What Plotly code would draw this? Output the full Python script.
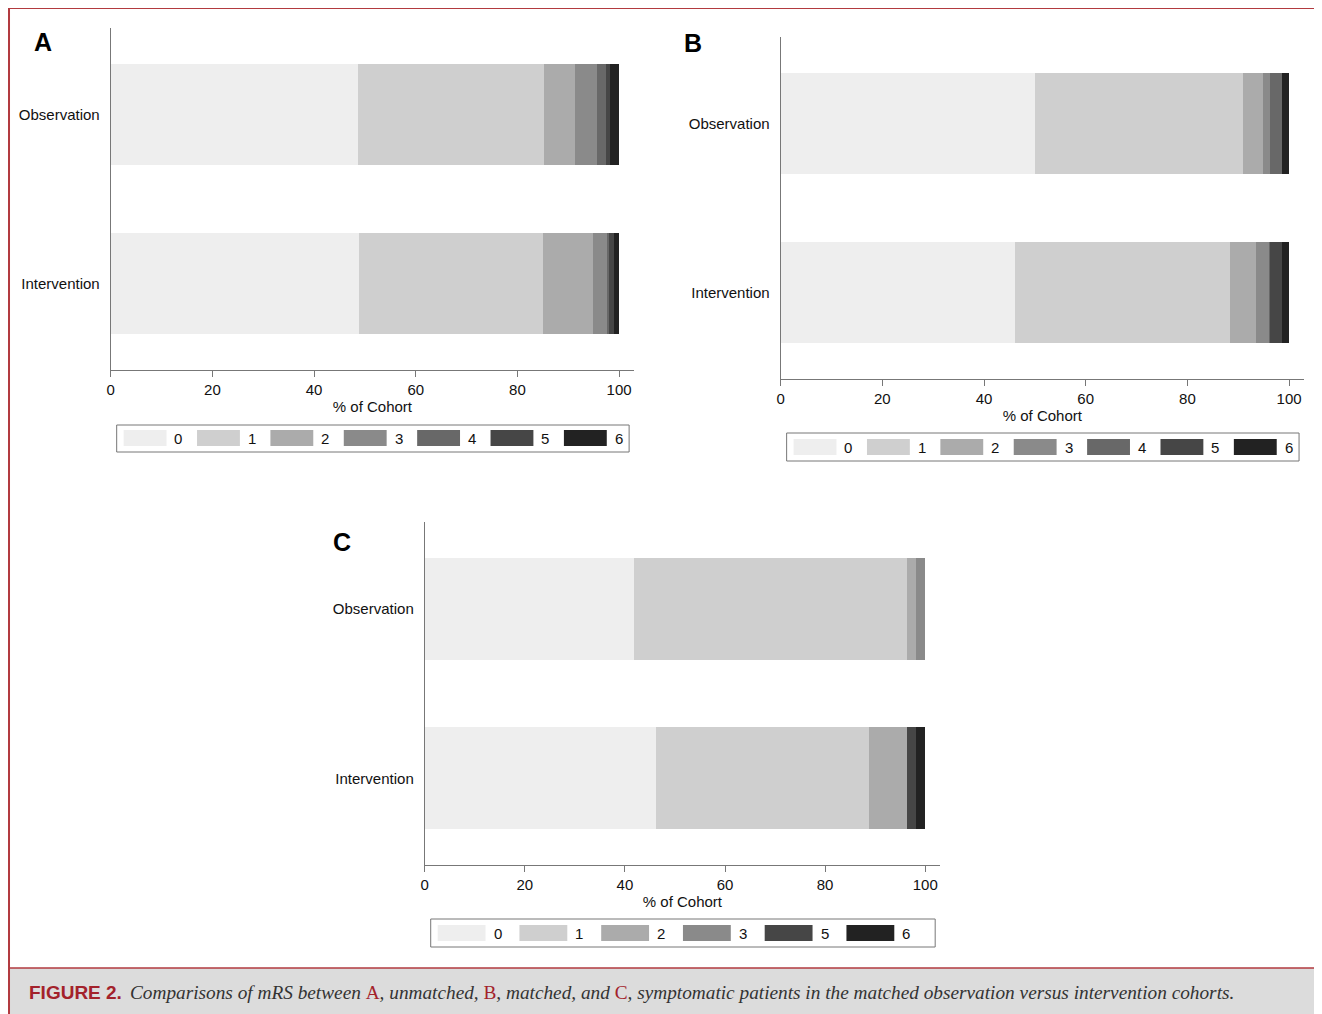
import plotly.graph_objects as go

W, H = 1322, 1014          # target screenshot size
OFFX, OFFY = 11, 8         # where the page places the figure
FW, FH = W - OFFX, H - OFFY  # figure size

# ---------------- data ----------------
groups = ["Intervention", "Observation"]
mrs_ab = ["0", "1", "2", "3", "4", "5", "6"]
mrs_c = ["0", "1", "2", "3", "5", "6"]

a_observation = [48.7, 36.5, 6.1, 4.3, 1.8, 0.8, 1.8]
a_intervention = [48.8, 36.2, 9.9, 2.7, 0.4, 0.9, 1.1]
b_observation = [50.0, 40.9, 4.0, 1.3, 2.5, 0.0, 1.3]
b_intervention = [46.1, 42.3, 5.1, 2.5, 0.3, 2.3, 1.4]
c_observation = [41.8, 54.5, 1.8, 1.9, 0.0, 0.0]
c_intervention = [46.3, 42.4, 7.6, 0.0, 1.8, 1.9]

x_ticks = [0, 20, 40, 60, 80, 100]

colors = {"0": "#eeeeee", "1": "#cfcfcf", "2": "#ababab", "3": "#8a8a8a",
          "4": "#686868", "5": "#464646", "6": "#222222"}

FONT = "Liberation Sans, Arial, Helvetica, sans-serif"
RED = "#a3222b"

fig = go.Figure()

panels = [
    ("x", "y", mrs_ab, a_observation, a_intervention),
    ("x2", "y2", mrs_ab, b_observation, b_intervention),
    ("x3", "y3", mrs_c, c_observation, c_intervention),
]
for xa, ya, cats, obs, inter in panels:
    for i, c in enumerate(cats):
        fig.add_trace(go.Bar(
            y=groups, x=[inter[i], obs[i]], orientation="h",
            name=c, marker=dict(color=colors[c], line=dict(width=0)),
            width=0.6, xaxis=xa, yaxis=ya, showlegend=False,
            hovertemplate="mRS " + c + ": %{x}%<extra>%{y}</extra>",
        ))

def px_x(v):
    return (v - OFFX) / FW

def px_y(v):
    return 1 - (v - OFFY) / FH

# panel geometry in screenshot pixels: (x0, x1, ytop, ybottom, px per 100%)
geo = {
    "": (110, 635, 28, 370, 620 - 110),
    "2": (782, 1307, 37, 379, 1292 - 782),
    "3": (425, 942, 522, 865, 927 - 425),
}

layout = dict(
    width=FW, height=FH,
    margin=dict(l=0, r=0, t=0, b=0),
    paper_bgcolor="white", plot_bgcolor="white",
    barmode="stack",
    font=dict(family=FONT, size=15, color="#111111"),
    showlegend=False,
)
for k, (x0, x1, yt, yb, span) in geo.items():
    xmax = (x1 - x0) * 100.0 / span
    layout["xaxis" + k] = dict(
        domain=[px_x(x0), px_x(x1)], anchor="y" + k, range=[0, xmax],
        tickvals=x_ticks, ticks="outside", ticklen=6, tickcolor="#777777",
        showline=True, linecolor="#777777", linewidth=1, showgrid=False,
        zeroline=False, tickfont=dict(size=15, family=FONT, color="#111111"),
        title=dict(text="% of Cohort", standoff=3,
                   font=dict(size=15, family=FONT, color="#111111")),
        fixedrange=True,
    )
    layout["yaxis" + k] = dict(
        domain=[px_y(yb), px_y(yt)], anchor="x" + k,
        type="category", categoryorder="array", categoryarray=groups,
        range=[-0.51, 1.51], showline=True, linecolor="#777777", linewidth=1,
        showgrid=False, zeroline=False, ticks="outside", ticklen=7,
        tickcolor="rgba(0,0,0,0)",
        tickfont=dict(size=15, family=FONT, color="#111111"), fixedrange=True,
    )
fig.update_layout(**layout)

shapes = []
annotations = []

# manual legends (wide swatches like the original)
def legend(cats, box, first_x, pitch, sw, sh_top, sh_bot):
    bx0, bx1, by0, by1 = box
    shapes.append(dict(type="rect", xref="paper", yref="paper",
                       x0=px_x(bx0), x1=px_x(bx1), y0=px_y(by1), y1=px_y(by0),
                       line=dict(color="#777777", width=1), fillcolor="white"))
    for i, c in enumerate(cats):
        sx = first_x + i * pitch
        shapes.append(dict(type="rect", xref="paper", yref="paper",
                           x0=px_x(sx), x1=px_x(sx + sw),
                           y0=px_y(sh_bot), y1=px_y(sh_top),
                           line=dict(width=0), fillcolor=colors[c]))
        annotations.append(dict(text=c, xref="paper", yref="paper",
                                x=px_x(sx + sw + 12), y=px_y((sh_top + sh_bot) / 2),
                                xanchor="center", yanchor="middle", showarrow=False,
                                font=dict(size=15, family=FONT, color="#111111")))

legend(mrs_ab, (116, 630, 425, 452), 123, 73.6, 43, 430, 446)
legend(mrs_ab, (788, 1302, 433, 461), 795, 73.6, 43, 439, 455)
legend(mrs_c, (431, 937, 919, 947), 438, 82, 48, 925, 941)

# panel letters
for letter, lx, ly in [("A", 42, 42), ("B", 694, 43), ("C", 342, 542)]:
    annotations.append(dict(text="<b>" + letter + "</b>", xref="paper", yref="paper",
                            x=px_x(lx), y=px_y(ly), xanchor="center", yanchor="middle",
                            showarrow=False,
                            font=dict(size=25, family=FONT, color="#000000")))

# frame and caption box
shapes.append(dict(type="rect", xref="paper", yref="paper", layer="below",
                   x0=px_x(8), x1=px_x(W + 5), y0=px_y(H + 5), y1=px_y(968),
                   line=dict(width=0), fillcolor="#dcdcdc"))
shapes.append(dict(type="line", xref="paper", yref="paper",
                   x0=px_x(8), x1=px_x(W), y0=px_y(8), y1=px_y(8),
                   line=dict(color="#b23a3f", width=2)))
shapes.append(dict(type="line", xref="paper", yref="paper",
                   x0=px_x(8), x1=px_x(8), y0=px_y(8), y1=px_y(H),
                   line=dict(color="#b23a3f", width=2)))
shapes.append(dict(type="line", xref="paper", yref="paper",
                   x0=px_x(8), x1=px_x(W), y0=px_y(968), y1=px_y(968),
                   line=dict(color="#b23a3f", width=1.5)))

annotations.append(dict(text="<b>FIGURE 2.</b>", xref="paper", yref="paper",
                        x=px_x(26), y=px_y(992), xanchor="left", yanchor="middle",
                        showarrow=False,
                        font=dict(size=19, family="Liberation Sans Narrow, Liberation Sans, Arial, sans-serif",
                                  color=RED)))
red = "<span style='color:%s;font-style:normal'>" % RED
caption = ("<i>Comparisons of mRS between </i>" + red + "A</span><i>, unmatched, </i>"
           + red + "B</span><i>, matched, and </i>" + red + "C</span>"
           "<i>, symptomatic patients in the matched observation versus intervention cohorts.</i>")
annotations.append(dict(text=caption, xref="paper", yref="paper",
                        x=px_x(127), y=px_y(992), xanchor="left", yanchor="middle",
                        showarrow=False,
                        font=dict(size=19.3, family="Liberation Serif, Times New Roman, serif",
                                  color="#333333")))

fig.update_layout(shapes=shapes, annotations=annotations)
fig.write_html("out.html")
